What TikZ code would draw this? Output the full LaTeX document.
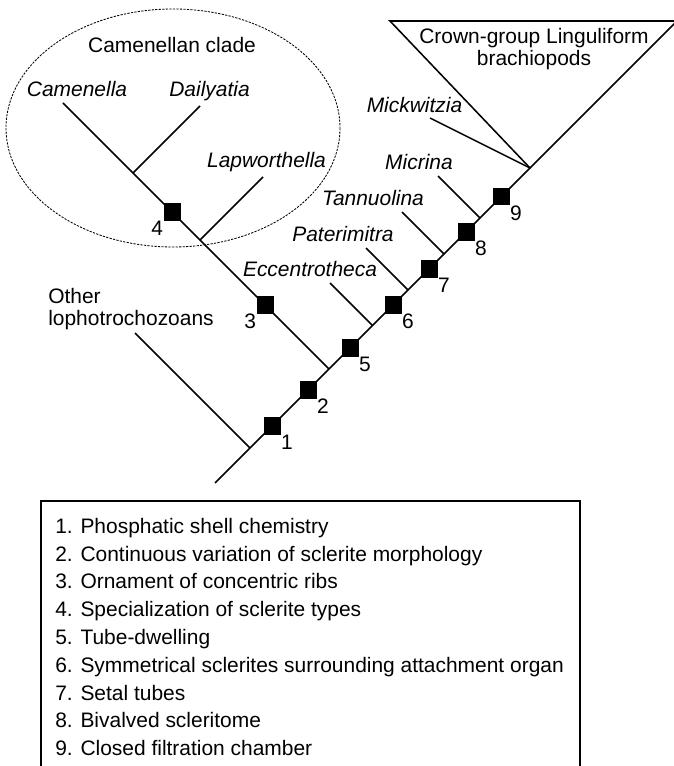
\documentclass[tikz,border=0pt]{standalone}
\usepackage{fontspec}
\setmainfont{Liberation Sans}
\usetikzlibrary{positioning}

\tikzset{
  branch/.style={black, line width=1.1pt},
  taxon/.style={font=\fontsize{14.9}{15.9}\selectfont\itshape, inner sep=0pt, anchor=base},
  plain/.style={font=\fontsize{14.9}{15.9}\selectfont, inner sep=0pt},
  synapo/.style={rectangle, fill=black, minimum size=0.425cm, inner sep=0pt},
  numR/.style={label={[plain, anchor=north west]south east:#1}},
  numL/.style={label={[plain, anchor=north east]south west:#1}},
}

\begin{document}
\begin{tikzpicture}[x=0.025cm, y=-0.025cm]
  \useasboundingbox (0,0) rectangle (674,766);

  % Trunk
  \coordinate (root) at (215,483);
  \coordinate (jOther) at (250,448);
  \coordinate (jCam) at (329,369);
  \coordinate (jEcc) at (372.5,325.5);
  \coordinate (jPat) at (408,290);
  \coordinate (jTan) at (444,254);
  \coordinate (jMic) at (480,218);
  \coordinate (apex) at (530,168);

  % Tips
  \coordinate (tOther) at (135,333);
  \coordinate (tCam) at (63,103);
  \coordinate (jLap) at (200,240);
  \coordinate (tLap) at (263,177);
  \coordinate (jDai) at (133,173);
  \coordinate (tDai) at (200,106);
  \coordinate (tEcc) at (330,283);
  \coordinate (tPat) at (366,248);
  \coordinate (tTan) at (402,212);
  \coordinate (tMic) at (438,176);
  \coordinate (tMick) at (430,118);
  \coordinate (triL) at (390,21);
  \coordinate (triR) at (677,21);

  % Camenellan clade
  \draw[line width=0.6pt, dash pattern=on 1.6pt off 0.9pt] (173,128) ellipse [x radius=167, y radius=119];
  \node[plain, anchor=base] (clade) at (172,53) {Camenellan clade};

  % Branches
  \draw[branch] (root) -- (apex);
  \draw[branch] (jOther) -- (tOther);
  \draw[branch] (jCam) -- (tCam);
  \draw[branch] (jLap) -- (tLap);
  \draw[branch] (jDai) -- (tDai);
  \draw[branch] (jEcc) -- (tEcc);
  \draw[branch] (jPat) -- (tPat);
  \draw[branch] (jTan) -- (tTan);
  \draw[branch] (jMic) -- (tMic);
  \draw[branch] (apex) -- (tMick);
  \draw[branch, line join=miter] (apex) -- (triL) -- (triR) -- cycle;

  % Character markers
  \node[synapo, numR=1] (m1) at (272,426) {};
  \node[synapo, numR=2] (m2) at (308,390) {};
  \node[synapo, numL=3] (m3) at (265,305) {};
  \node[synapo, numL=4] (m4) at (172,212) {};
  \node[synapo, numR=5] (m5) at (350,348) {};
  \node[synapo, numR=6] (m6) at (393,305) {};
  \node[synapo, numR=7] (m7) at (429,269) {};
  \node[synapo, numR=8] (m8) at (466,232) {};
  \node[synapo, numR=9] (m9) at (501,197) {};

  % Taxa
  \node[taxon] (camenella) at (77,97) {Camenella};
  \node[taxon] (dailyatia) at (209.5,97) {Dailyatia};
  \node[taxon] (lapworthella) at (266.5,168) {Lapworthella};
  \node[taxon] (eccentrotheca) at (310,277) {Eccentrotheca};
  \node[taxon] (paterimitra) at (343,242) {Paterimitra};
  \node[taxon] (tannuolina) at (373,206) {Tannuolina};
  \node[taxon] (micrina) at (419,170) {Micrina};
  \node[taxon] (mickwitzia) at (414.5,113) {Mickwitzia};
  \node[plain, anchor=north, align=center] (crown) at (534,28) {Crown-group Linguliform\\brachiopods};
  \node[plain, anchor=north west, align=left] (other) at (48,288) {Other\\lophotrochozoans};

  % Key
  \coordinate (keyNW) at (41,501);
  \coordinate (keySE) at (580,790);
  \draw[line width=1.1pt] (keyNW) rectangle (keySE);
  \node[plain, font=\fontsize{14.9}{19.74}\selectfont, anchor=north west, align=left] (key) at (55,518) {%
    1. Phosphatic shell chemistry\\
    2. Continuous variation of sclerite morphology\\
    3. Ornament of concentric ribs\\
    4. Specialization of sclerite types\\
    5. Tube-dwelling\\
    6. Symmetrical sclerites surrounding attachment organ\\
    7. Setal tubes\\
    8. Bivalved scleritome\\
    9. Closed filtration chamber};
\end{tikzpicture}
\end{document}
